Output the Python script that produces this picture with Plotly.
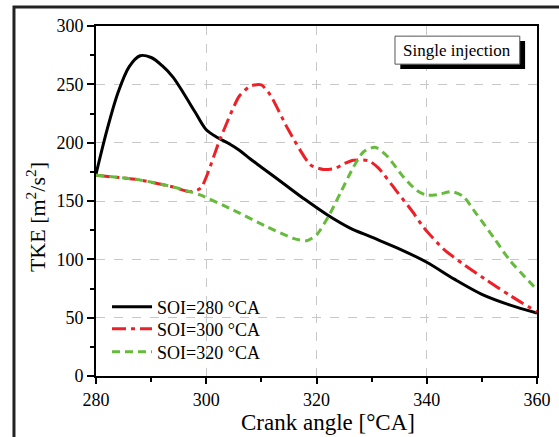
import plotly.graph_objects as go

# Data
x_280 = [280, 282, 284, 286, 288, 290, 292, 294, 296, 298, 300, 302, 304, 306, 308, 310, 314, 318, 322, 326, 330, 335, 340, 345, 350, 355, 360]
y_280 = [173, 211, 243, 265, 274.5, 273, 266, 256, 241.5, 226, 211, 204.5, 199.5, 193.5, 186, 179, 165, 151, 138, 127, 119, 109, 97.5, 83, 70, 61, 54]

x_300 = [280, 288, 294, 297, 299, 302.5, 306, 308, 310, 311.6, 314.9, 318.9, 321.3, 323.4, 325, 326.7, 329.5, 331.3, 334.6, 337.4, 339.5, 343, 346.6, 350.9, 355.1, 360]
y_300 = [172, 168, 162, 158, 161, 203, 240, 248.5, 249.5, 241, 211, 181, 177, 178, 182, 185, 184.5, 178, 158, 141, 127, 109, 96, 82, 69, 55]

x_320 = [280, 288, 294, 297, 299, 305, 311, 315.8, 318.2, 320, 322.2, 324.3, 326.7, 328.5, 330.6, 332.7, 335.7, 338.2, 340, 342, 344.5, 346.6, 349, 352.1, 355.1, 360]
y_320 = [172, 168, 162, 158, 155, 142, 128, 118, 116, 121, 137, 156.5, 179, 192, 196, 189, 171, 159, 155, 155.5, 158, 154, 139, 119, 99, 74]

names = ["SOI=280 °CA", "SOI=300 °CA", "SOI=320 °CA"]
x_ticks = [280, 300, 320, 340, 360]
y_ticks = [0, 50, 100, 150, 200, 250, 300]

FONT = "Liberation Serif"

fig = go.Figure()
fig.add_trace(go.Scatter(x=x_280, y=y_280, mode="lines", name=names[0], legend="legend",
                         line=dict(color="black", width=3, shape="spline", smoothing=0.9)))
fig.add_trace(go.Scatter(x=x_300, y=y_300, mode="lines", name=names[1], legend="legend2",
                         line=dict(color="#EE2027", width=3, dash="14px,5px,4px,5px",
                                   shape="spline", smoothing=0.6)))
fig.add_trace(go.Scatter(x=x_320, y=y_320, mode="lines", name=names[2], legend="legend3",
                         line=dict(color="#66BB3C", width=3, dash="8px,5px",
                                   shape="spline", smoothing=0.7)))

axis_common = dict(
    showline=True, linecolor="black", linewidth=2, mirror=True,
    ticks="outside", tickwidth=2, tickcolor="black",
    showgrid=True, gridcolor="#C8C8C8", griddash="dash", gridwidth=1,
    zeroline=False, automargin=False,
    tickfont=dict(family=FONT, size=18, color="black"),
)

fig.update_xaxes(range=[280, 360], tickvals=x_ticks, ticklen=6,
                 minor=dict(ticks="outside", ticklen=4, tickwidth=2, tickcolor="black", dtick=10, tick0=280, showgrid=False),
                 **axis_common)
fig.update_yaxes(range=[0, 300], tickvals=y_ticks, ticklen=7,
                 minor=dict(ticks="outside", ticklen=4, tickwidth=2, tickcolor="black", dtick=25, tick0=0, showgrid=False),
                 **axis_common)

# Axis titles
fig.add_annotation(xref="paper", yref="paper", x=0.525, y=-0.132, text="Crank angle [°CA]",
                   showarrow=False, font=dict(family=FONT, size=23, color="black"),
                   xanchor="center", yanchor="middle")
fig.add_annotation(xref="paper", yref="paper", x=-0.136, y=0.454, text="TKE [m<sup>2</sup>/s<sup>2</sup>]",
                   showarrow=False, textangle=-90, font=dict(family=FONT, size=22, color="black"),
                   xanchor="center", yanchor="middle")

# Outer frame
fig.add_shape(type="rect", xref="paper", yref="paper", x0=-0.186, x1=1.08, y0=-0.25, y1=1.054,
              line=dict(color="#222222", width=3), fillcolor="rgba(0,0,0,0)", layer="above")

# "Single injection" box with shadow
fig.add_shape(type="rect", xref="paper", yref="paper", x0=0.690, x1=0.973, y0=0.877, y1=0.957,
              line=dict(color="black", width=0), fillcolor="black", layer="above")
fig.add_shape(type="rect", xref="paper", yref="paper", x0=0.678, x1=0.961, y0=0.891, y1=0.971,
              line=dict(color="#555555", width=1), fillcolor="white", layer="above")
fig.add_annotation(xref="paper", yref="paper", x=0.8195, y=0.931, text="Single injection",
                   showarrow=False, font=dict(family=FONT, size=17, color="black"),
                   xanchor="center", yanchor="middle")

leg = dict(x=0.025, xanchor="left", yanchor="middle", bgcolor="rgba(0,0,0,0)", borderwidth=0,
           font=dict(family=FONT, size=18, color="black"), itemwidth=40)

fig.update_layout(
    width=559, height=437,
    margin=dict(l=96, r=22, t=26, b=61),
    paper_bgcolor="white", plot_bgcolor="white",
    font=dict(family=FONT, color="black"),
    legend=dict(y=0.197, **leg),
    legend2=dict(y=0.134, **leg),
    legend3=dict(y=0.0686, **leg),
    showlegend=True,
)

fig.write_html("out.html")
